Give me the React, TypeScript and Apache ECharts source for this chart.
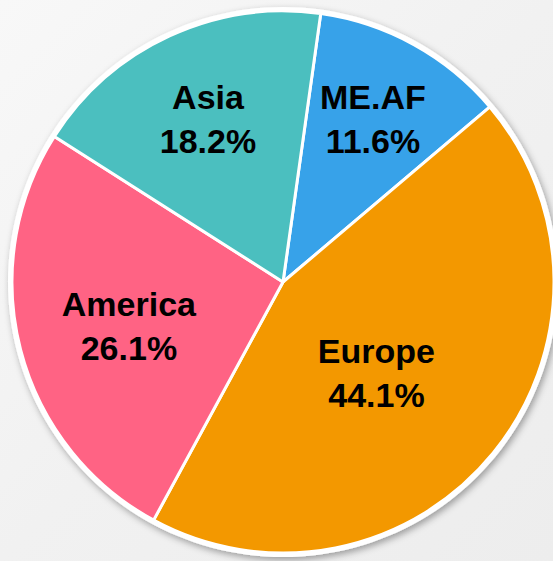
import React, { useEffect, useRef } from "react";
import * as echarts from "echarts";

const regions = ["ME.AF", "Europe", "America", "Asia"];
const shares = [11.6, 44.1, 26.1, 18.2];
const colors = ["#37A2E9", "#F39800", "#FF6384", "#4BBFBF"];
// label nudges (dx, dy) relative to the default inside position
const labelNudges: [number, number][] = [
  [23, -42],
  [-14, 4],
  [-20, 9],
  [-17, -37],
];

export default function App() {
  const ref = useRef<HTMLDivElement>(null);
  useEffect(() => {
    document.body.style.margin = "0";
    const chart = echarts.init(ref.current!, undefined, { renderer: "svg" });
    chart.setOption({
      animation: false,
      backgroundColor: {
        type: "linear",
        x: 0,
        y: 0,
        x2: 1,
        y2: 1,
        colorStops: [
          { offset: 0, color: "#f8f8f8" },
          { offset: 0.5, color: "#f1f1f1" },
          { offset: 1, color: "#ededed" },
        ],
      },
      series: [
        {
          type: "pie",
          silent: true,
          center: [283, 282],
          radius: 275,
          label: { show: false },
          labelLine: { show: false },
          itemStyle: {
            color: "#ffffff",
            shadowBlur: 7,
            shadowOffsetX: 2,
            shadowOffsetY: 3,
            shadowColor: "rgba(0,0,0,0.35)",
          },
          data: [{ value: 1, name: "" }],
          z: 1,
        },
        {
          type: "pie",
          center: [283, 282],
          radius: 271,
          startAngle: 82,
          clockwise: true,
          z: 2,
          data: regions.map((n, i) => ({
            name: n,
            value: shares[i],
            itemStyle: { color: colors[i] },
          })),
          itemStyle: { borderColor: "#ffffff", borderWidth: 3 },
          label: {
            show: true,
            position: "inside",
            formatter: (p: any) => `${p.name}\n${p.value.toFixed(1)}%`,
            color: "#000000",
            fontFamily: "Liberation Sans, Arial, sans-serif",
            fontWeight: "bold",
            fontSize: 34,
            lineHeight: 44,
            align: "center",
          },
          labelLine: { show: false },
          labelLayout: (params: any) => ({
            dx: labelNudges[params.dataIndex][0],
            dy: labelNudges[params.dataIndex][1],
          }),
        },
      ],
    });
    return () => chart.dispose();
  }, []);
  return (
    <div
      ref={ref}
      style={{ position: "absolute", left: 0, top: 0, width: 553, height: 561 }}
    />
  );
}
